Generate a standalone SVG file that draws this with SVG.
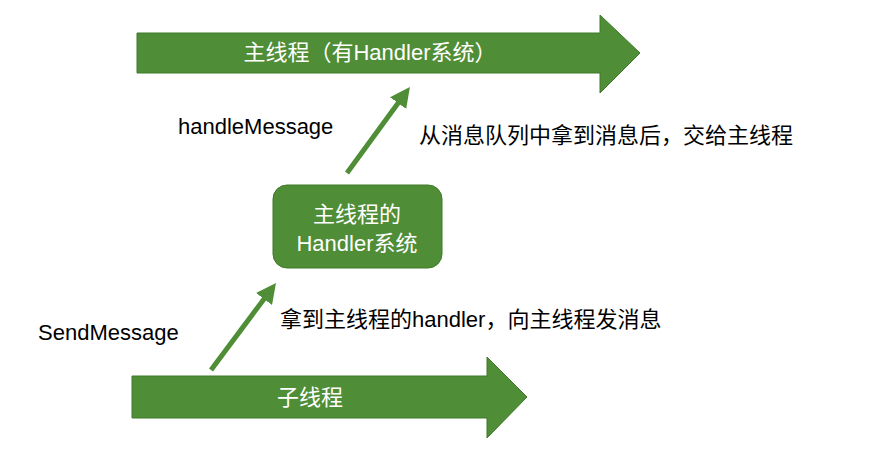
<svg xmlns="http://www.w3.org/2000/svg" width="884" height="457" viewBox="0 0 884 457">
<style>
.big{fill:#4f8d36;stroke:#3f7a2a;stroke-width:1}
.wt{fill:#fff;font-family:"Liberation Sans","Noto Sans CJK SC",sans-serif;font-size:22px;text-anchor:middle}
.bt{fill:#000;font-family:"Liberation Sans","Noto Sans CJK SC",sans-serif;font-size:22px}
.con{stroke:#4f8d36;stroke-width:5;fill:none}
</style>
<defs><marker id="ah" markerWidth="4" markerHeight="4" refX="2" refY="2" orient="auto" markerUnits="strokeWidth"><path d="M0,0 L4,2 L0,4Z" fill="#4f8d36"/></marker></defs>
<g id="main">
<path class="big" d="M137,33 H600 V15 L640,53 L600,93 V73 H137Z"/>
<text class="wt" x="370" y="60">主线程（有Handler系统）</text>
</g>
<g id="sub">
<path class="big" d="M132,376 H487 V357 L527,397 L487,438 V418 H132Z"/>
<text class="wt" x="310" y="405">子线程</text>
</g>
<g id="handler">
<rect class="big" x="273" y="185" width="169" height="83" rx="14"/>
<text class="wt" x="357" y="222">主线程的</text>
<text class="wt" x="357" y="251">Handler系统</text>
</g>
<g id="connectors">
<line class="con" x1="211" y1="370" x2="270" y2="291" marker-end="url(#ah)"/>
<line class="con" x1="347" y1="173" x2="404" y2="95" marker-end="url(#ah)"/>
</g>
<g id="labels">
<text class="bt" x="178" y="134">handleMessage</text>
<text class="bt" x="419" y="143">从消息队列中拿到消息后，交给主线程</text>
<text class="bt" x="38" y="340">SendMessage</text>
<text class="bt" x="280" y="327">拿到主线程的handler，向主线程发消息</text>
</g>
</svg>
